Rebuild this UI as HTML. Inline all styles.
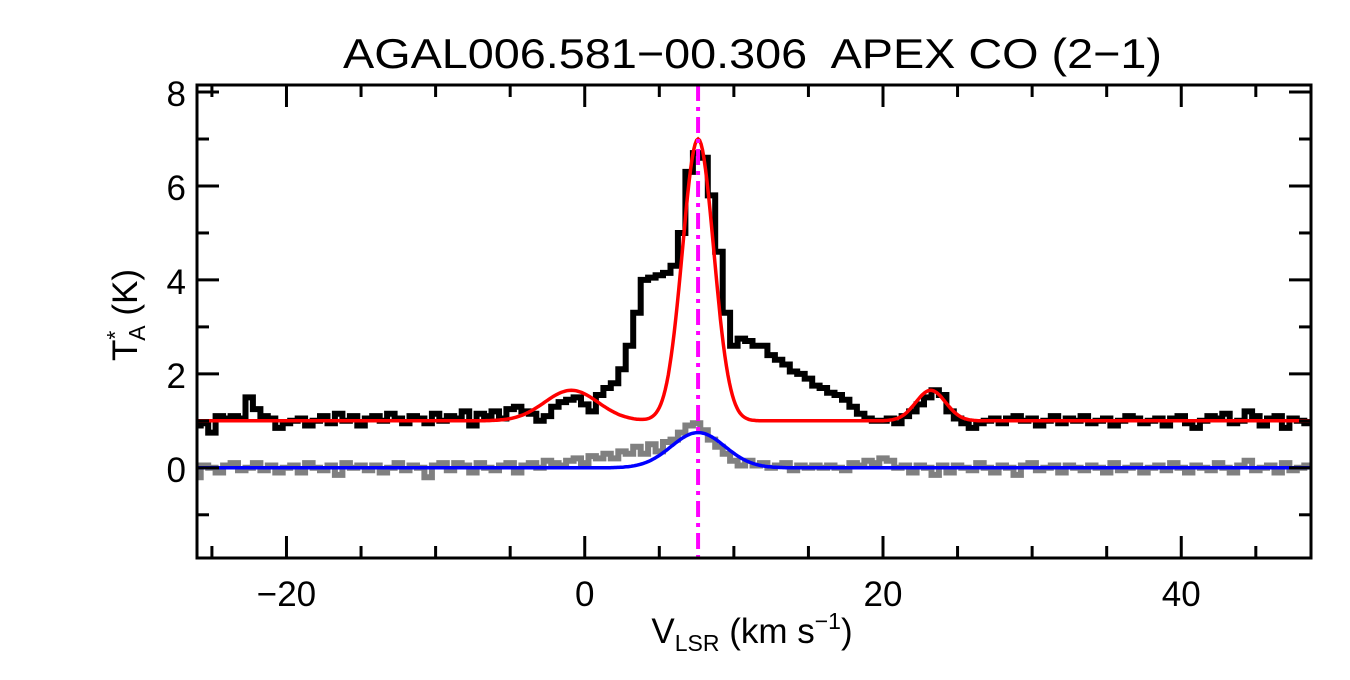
<!DOCTYPE html>
<html><head><meta charset="utf-8"><style>
body{margin:0;background:#fff;}
svg text{font-family:"Liberation Sans",sans-serif;}
</style></head><body>
<svg id="chart" width="1350" height="675" viewBox="0 0 1350 675" xmlns="http://www.w3.org/2000/svg">
<rect width="1350" height="675" fill="#fff"/>
<text x="343" y="68" font-size="42" textLength="819" lengthAdjust="spacingAndGlyphs" xml:space="preserve">AGAL006.581−00.306  APEX CO (2−1)</text>
<g id="plot"></g>
<text x="752" y="643" font-size="35" text-anchor="middle">V<tspan font-size="23" dy="8">LSR</tspan><tspan dy="-8"> (km s</tspan><tspan font-size="23" dy="-14">−1</tspan><tspan dy="14">)</tspan></text>
<text transform="translate(137,315) rotate(-90)" font-size="35" text-anchor="middle">T<tspan font-size="23" dy="-14">*</tspan><tspan font-size="23" dx="-10" dy="22">A</tspan><tspan dy="-8"> (K)</tspan></text>
</svg>
<script>
const xStart=-26, xStep=0.5;
const spectrum=[0.9,0.95,0.75,1.1,1.05,1.1,1.05,1.5,1.25,1.1,1.05,0.85,
0.95,1.0,1.05,0.9,1.0,1.1,0.95,1.15,1.0,1.1,0.9,1.05,
1.1,1.0,1.15,1.05,0.95,1.1,1.05,0.95,1.15,1.0,1.1,1.05,
1.2,0.9,1.15,1.1,1.2,1.05,1.25,1.3,1.2,1.15,1.0,1.1,
1.3,1.4,1.45,1.5,1.35,1.2,1.55,1.7,1.8,2.1,2.6,3.3,
4.0,4.05,4.1,4.15,4.3,5.0,6.3,6.7,6.6,5.8,4.6,3.3,
2.6,2.75,2.7,2.6,2.6,2.4,2.3,2.2,2.05,2.0,1.9,1.75,
1.7,1.6,1.55,1.45,1.3,1.15,1.05,1.0,1.0,1.05,0.95,1.1,
1.2,1.35,1.5,1.65,1.55,1.2,1.05,0.95,0.85,0.95,1.0,1.05,
0.95,1.05,1.1,1.0,1.05,0.9,1.0,1.1,0.95,1.05,1.0,1.1,
0.95,1.0,1.05,0.9,1.0,1.1,1.05,0.95,1.0,1.05,0.9,1.05,
1.1,0.95,0.85,1.0,1.1,1.05,1.15,0.95,1.0,1.2,1.1,0.9,
1.05,1.1,0.85,1.05,1.0,0.95];
const residual=[-0.2,0.05,0.0,-0.1,0.05,0.1,-0.05,0.0,0.1,-0.05,0.05,-0.1,
0.0,0.05,-0.1,0.1,0.0,-0.05,0.05,-0.15,0.1,0.0,0.05,-0.05,
0.05,-0.1,0.0,0.1,-0.05,0.05,0.0,-0.2,0.05,0.1,-0.05,0.1,
0.05,-0.1,0.1,0.0,-0.05,0.05,0.1,-0.1,0.05,0.1,0.0,0.15,
0.1,0.05,0.15,0.2,0.1,0.25,0.2,0.3,0.2,0.35,0.3,0.45,
0.3,0.5,0.35,0.55,0.6,0.75,0.9,0.95,0.8,0.6,0.45,0.3,
0.15,0.05,0.15,0.05,0.1,0.0,0.05,0.1,-0.05,0.05,0.0,0.05,
0.0,0.05,0.0,-0.05,0.1,0.05,0.15,0.1,0.2,0.15,0.0,0.05,
-0.1,0.05,0.0,-0.15,0.05,-0.1,0.05,0.0,-0.05,0.1,0.0,-0.1,
0.05,0.0,-0.15,0.05,0.1,-0.05,0.0,0.05,-0.1,0.05,0.0,-0.05,
0.05,0.0,-0.1,0.1,-0.05,0.0,0.05,-0.1,0.0,0.05,-0.05,0.1,
0.0,-0.1,0.05,0.0,-0.05,0.1,0.0,-0.1,0.05,0.15,-0.05,0.0,
0.05,-0.1,0.1,-0.05,0.0,0.05];
const fitBaseline=1.0;
const fitAmps=[6.0,0.65,0.65];
const fitCenters=[7.6,-0.9,23.2];
const fitSigmas=[1.05,1.8,1.0];
const resAmps=[0.75];
const resCenters=[7.6];
const resSigmas=[1.8];
const vMarker=7.6;
const xTicks=[-20,0,20,40];
const yTicks=[0,2,4,6,8];

const X0=197,X1=1311,Y0=85,Y1=558,xmin=-26,xmax=48.7,ymin=-1.92,ymax=8.15;
const sx=v=>X0+(v-xmin)/(xmax-xmin)*(X1-X0);
const sy=v=>Y1-(v-ymin)/(ymax-ymin)*(Y1-Y0);
const NS='http://www.w3.org/2000/svg';
const g=document.getElementById('plot');
function mk(t,a){const e=document.createElementNS(NS,t);for(const k in a)e.setAttribute(k,a[k]);g.appendChild(e);return e;}
const cp=document.createElementNS(NS,'clipPath');cp.setAttribute('id','cl');
const cr=document.createElementNS(NS,'rect');cr.setAttribute('x',X0);cr.setAttribute('y',Y0);cr.setAttribute('width',X1-X0);cr.setAttribute('height',Y1-Y0);cp.appendChild(cr);g.appendChild(cp);
function stepPath(arr){let d='';arr.forEach((v,i)=>{const xc=xStart+i*xStep;const a=sx(xc-xStep/2),b=sx(xc+xStep/2),y=sy(v);d+=(i?'L':'M')+a.toFixed(1)+','+y.toFixed(1)+'L'+b.toFixed(1)+','+y.toFixed(1);});return d;}
function gaussPath(base,A,C,S){let d='';for(let x=xmin;x<=xmax;x+=0.1){let y=base;for(let k=0;k<A.length;k++)y+=A[k]*Math.exp(-0.5*((x-C[k])/S[k])**2);d+=(d?'L':'M')+sx(x).toFixed(1)+','+sy(y).toFixed(1);}return d;}
let p;
p=mk('path',{d:stepPath(residual),fill:'none',stroke:'#808080','stroke-width':6,'clip-path':'url(#cl)'});


p=mk('path',{d:stepPath(spectrum),fill:'none',stroke:'#000','stroke-width':6,'clip-path':'url(#cl)'});


p=mk('path',{d:gaussPath(fitBaseline,fitAmps,fitCenters,fitSigmas),fill:'none',stroke:'#f00','stroke-width':3.5,'clip-path':'url(#cl)'});


p=mk('path',{d:gaussPath(0,resAmps,resCenters,resSigmas),fill:'none',stroke:'#00f','stroke-width':3.5,'clip-path':'url(#cl)'});


p=mk('line',{x1:sx(vMarker),x2:sx(vMarker),y1:Y0,y2:Y1,stroke:'#f0f','stroke-width':4,'stroke-dasharray':'16,6,4,6'});


p=mk('rect',{x:X0,y:Y0,width:X1-X0,height:Y1-Y0,fill:'none',stroke:'#000','stroke-width':3});


for(let v=-25;v<=45;v+=5){const x=sx(v),L=(v%20===0)?22:12;
 p=mk('line',{x1:x,x2:x,y1:Y1,y2:Y1-L,stroke:'#000','stroke-width':3});
 
 
 p=mk('line',{x1:x,x2:x,y1:Y0,y2:Y0+L,stroke:'#000','stroke-width':3});
 
 }
xTicks.forEach(v=>{p=mk('text',{x:sx(v),y:606,'font-size':35,'text-anchor':'middle'});p.textContent=(v<0?'−':'')+Math.abs(v);
 
 });
for(let v=-1;v<=8;v+=1){const y=sy(v),L=(v%2===0)?22:12;
 p=mk('line',{x1:X0,x2:X0+L,y1:y,y2:y,stroke:'#000','stroke-width':3});
 
 
 p=mk('line',{x1:X1,x2:X1-L,y1:y,y2:y,stroke:'#000','stroke-width':3});
 
 }
yTicks.forEach(v=>{p=mk('text',{x:186,y:sy(v)+14,'font-size':35,'text-anchor':'end'});p.textContent=v;
 
 });
</script>
</body></html>
